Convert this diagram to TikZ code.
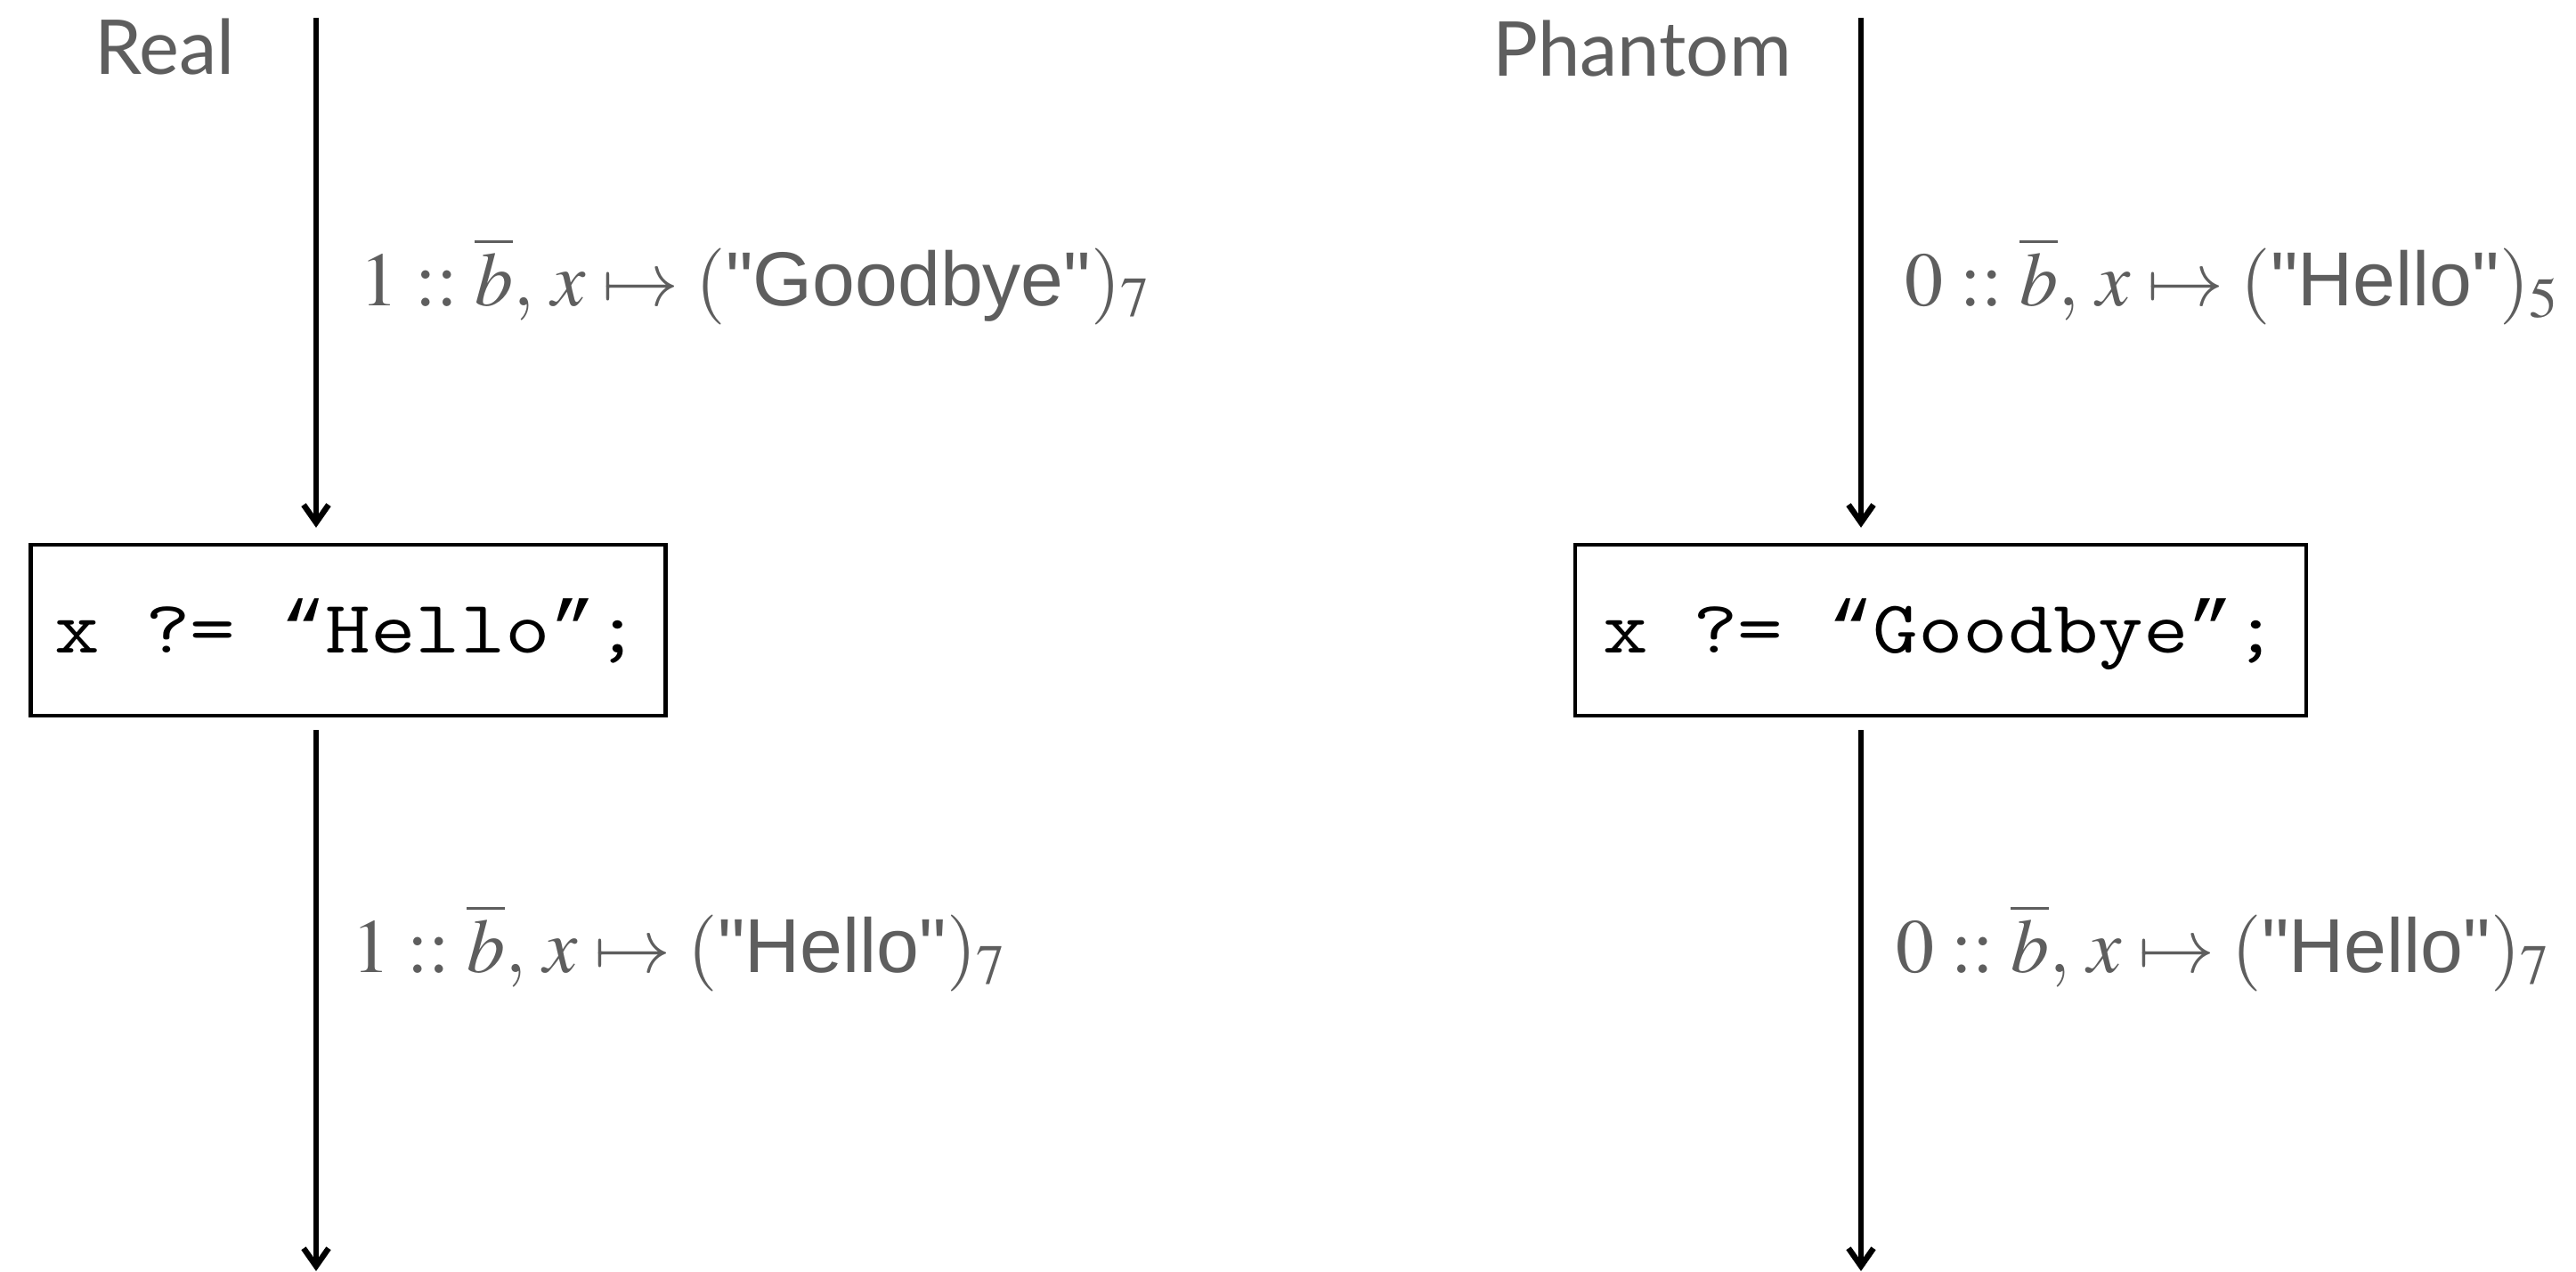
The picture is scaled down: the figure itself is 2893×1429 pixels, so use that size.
\documentclass[tikz,border=0pt]{standalone}
\usepackage{mathptmx}
\usepackage{fontspec}
\newfontfamily\sfq{Liberation Sans}
\newfontfamily\titlefont{Lato}
\newfontfamily\codefont[FakeStretch=1.17]{Latin Modern Mono}
\newfontfamily\qfont{Liberation Mono}
\usetikzlibrary{arrows.meta}
\definecolor{txtgray}{RGB}{94,94,94}
\newcommand{\codelq}{{\qfont “}}
\newcommand{\coderq}{{\qfont ”}}
\newcommand{\stlabel}[3]{$#1 :: \overline{b},\, x \mapsto (\mbox{\sfq"#2"})_{#3}$}
\tikzset{
  arr/.style={line width=6.5pt, -{Straight Barb[length=20pt,width=28pt]}},
  codebox/.style={draw, line width=4.5pt, minimum height=192pt, inner sep=0pt,
    text height=51pt, text depth=0pt, font={\codefont\fontsize{84}{100}\selectfont}},
  lbl/.style={anchor=base west, inner sep=0pt, text=txtgray, font={\fontsize{86}{100}\selectfont}},
  ttl/.style={anchor=base west, inner sep=0pt, text=txtgray, font={\titlefont\fontsize{85}{100}\selectfont}}
}
\begin{document}
\begin{tikzpicture}[x=1pt,y=1pt]
\useasboundingbox (0,0) rectangle (2893,-1429);
% titles
\node[ttl] (real) at (106,-84) {Real};
\node[ttl] (phantom) at (1676,-85) {Phantom};
% boxes
\node[codebox, minimum width=713pt] (Lbox) at (390.75,-708) {x ?= \codelq Hello\coderq;};
\node[codebox, minimum width=821pt] (Rbox) at (2179.5,-708) {x ?= \codelq Goodbye\coderq;};
% arrow ends
\coordinate (Ltop) at (355,-20);
\coordinate (Lbot) at (355,-1428);
\coordinate (Rtop) at (2090,-20);
\coordinate (Rbot) at (2090,-1428);
\draw[arr, shorten >=17pt] (Ltop) -- (Ltop |- Lbox.north);
\draw[arr, shorten <=14pt] (Lbot |- Lbox.south) -- (Lbot);
\draw[arr, shorten >=17pt] (Rtop) -- (Rtop |- Rbox.north);
\draw[arr, shorten <=14pt] (Rbot |- Rbox.south) -- (Rbot);
% labels
\node[lbl] (l1) at (404,-343) {\stlabel{1}{Goodbye}{7}};
\node[lbl] (l2) at (395,-1092) {\stlabel{1}{Hello}{7}};
\node[lbl] (r1) at (2139,-343) {\stlabel{0}{Hello}{5}};
\node[lbl] (r2) at (2129,-1092) {\stlabel{0}{Hello}{7}};
\end{tikzpicture}
\end{document}
